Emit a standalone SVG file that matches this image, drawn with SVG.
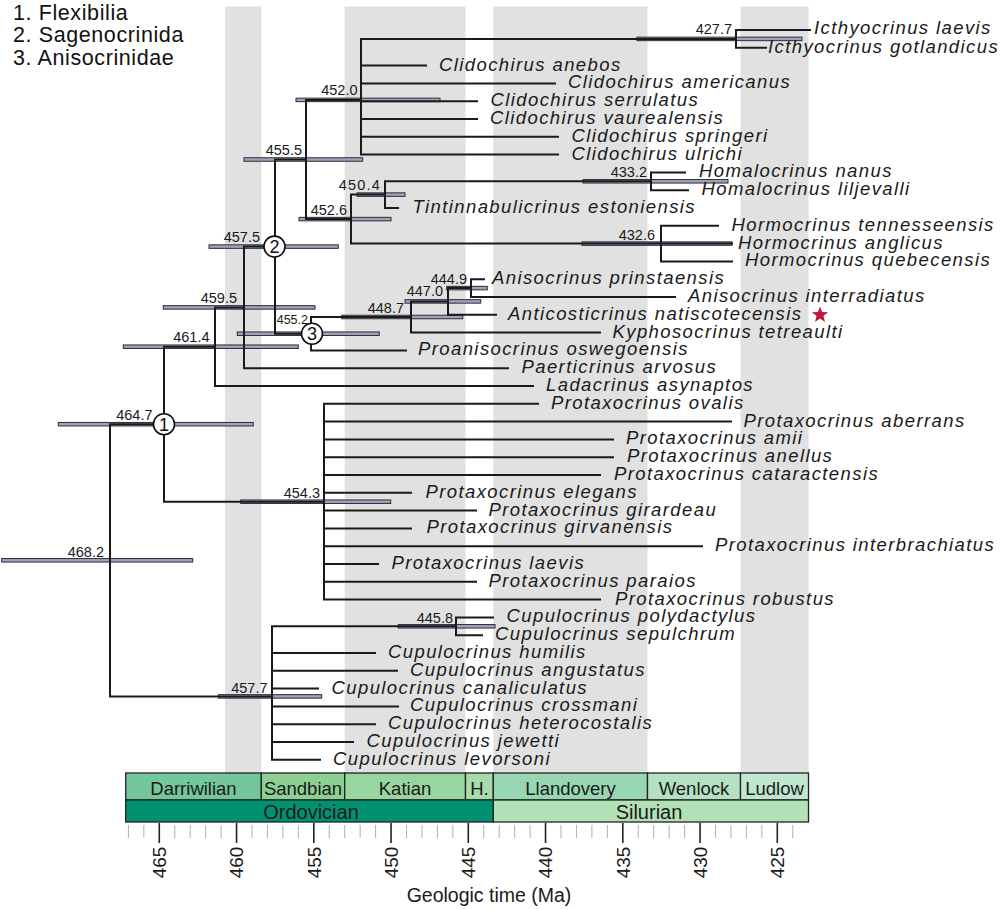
<svg xmlns="http://www.w3.org/2000/svg" width="1000" height="909" viewBox="0 0 1000 909">
<style>
.band{fill:#e1e1e1}
.br{stroke:#1a1a1a;stroke-width:2;fill:none;stroke-linecap:square}
.bar{fill:#a2a2bc;stroke:#2c2c3a;stroke-width:1}
.age{font-family:"Liberation Sans",Arial,sans-serif;font-size:14.5px;text-anchor:end;fill:#1a1a1a}
.tx{font-family:"Liberation Sans",Arial,sans-serif;font-style:italic;font-size:18.5px;letter-spacing:1.4px;fill:#1a1a1a}
.leg{font-family:"Liberation Sans",Arial,sans-serif;font-size:21.5px;letter-spacing:0.6px;fill:#111}
.circ{fill:#fff;stroke:#111;stroke-width:1.6}
.cn{font-family:"Liberation Sans",Arial,sans-serif;font-size:18px;text-anchor:middle;fill:#111}
.st{stroke:#222;stroke-width:1.3}
.stn{font-family:"Liberation Sans",Arial,sans-serif;font-size:18.5px;text-anchor:middle;fill:#1a1a1a}
.pn{font-family:"Liberation Sans",Arial,sans-serif;font-size:20px;text-anchor:middle;fill:#1a1a1a}
.mn{stroke:#b0b0b0;stroke-width:1}
.mj{stroke:#222;stroke-width:1.6}
.tl{font-family:"Liberation Sans",Arial,sans-serif;font-size:19px;text-anchor:middle;fill:#1a1a1a}
</style>
<rect width="1000" height="909" fill="#fff"/>
<g id="bands">
<rect class="band" x="225" y="6.5" width="36.3" height="766.5"/>
<rect class="band" x="344.7" y="6.5" width="120.8" height="766.5"/>
<rect class="band" x="493.3" y="6.5" width="154.2" height="766.5"/>
<rect class="band" x="740.5" y="6.5" width="68" height="766.5"/>
</g>
<g id="legend">
<text class="leg" x="13" y="19.5">1. Flexibilia</text>
<text class="leg" x="13" y="42">2. Sagenocrinida</text>
<text class="leg" x="13" y="64.5">3. Anisocrinidae</text>
</g>
<g id="bars">
<rect class="bar" x="1.7" y="558.55" width="191" height="3.5"/>
<rect class="bar" x="58.3" y="422.45" width="195" height="3.5"/>
<rect class="bar" x="240.7" y="499.95" width="150" height="3.5"/>
<rect class="bar" x="123.3" y="344.95" width="175" height="3.5"/>
<rect class="bar" x="163.3" y="305.65" width="151.7" height="3.5"/>
<rect class="bar" x="209" y="244.85" width="129.3" height="3.5"/>
<rect class="bar" x="237.3" y="331.95" width="142" height="3.5"/>
<rect class="bar" x="244" y="157.75" width="118.7" height="3.5"/>
<rect class="bar" x="296" y="98.15" width="144" height="3.5"/>
<rect class="bar" x="299" y="217.35" width="92" height="3.5"/>
<rect class="bar" x="357" y="192.85" width="48" height="3.5"/>
<rect class="bar" x="341.7" y="315.25" width="121" height="3.5"/>
<rect class="bar" x="405" y="299.65" width="75.7" height="3.5"/>
<rect class="bar" x="446.7" y="286.35" width="40.6" height="3.5"/>
<rect class="bar" x="583" y="179.55" width="145" height="3.5"/>
<rect class="bar" x="637" y="37.15" width="165" height="3.5"/>
<rect class="bar" x="582" y="241.85" width="150" height="3.5"/>
<rect class="bar" x="218.3" y="694.65" width="103.4" height="3.5"/>
<rect class="bar" x="398.3" y="624.55" width="96.7" height="3.5"/>
</g>
<g id="connectors">
<path class="br" d="M110,424.2V696.4M110,424.2H164M110,696.4H272"/>
<path class="br" d="M164,346.7V501.7M164,346.7H215M164,501.7H324"/>
<path class="br" d="M215,307.4V386M215,307.4H244M215,386H533"/>
<path class="br" d="M244,246.6V368.2M244,246.6H275M244,368.2H508"/>
<path class="br" d="M275,159.5V333.7M275,159.5H306M275,333.7H311"/>
<path class="br" d="M306,99.9V219.1M306,99.9H361M306,219.1H351"/>
<path class="br" d="M361,38.9V154.6M361,38.9H736M361,65.6H426M361,83.4H555M361,101.2H477M361,119H477M361,136.8H558M361,154.6H558"/>
<path class="br" d="M736,30V47.8M736,30H810M736,47.8H766"/>
<path class="br" d="M351,194.6V243.6M351,194.6H385M351,243.6H661"/>
<path class="br" d="M385,181.3V208M385,181.3H651M385,208H398"/>
<path class="br" d="M651,172.4V190.2M651,172.4H685M651,190.2H688"/>
<path class="br" d="M661,225.8V261.4M661,225.8H718M661,243.6H732M661,261.4H732"/>
<path class="br" d="M311,317V350.4M311,317H411M311,350.4H406"/>
<path class="br" d="M411,301.4V332.6M411,301.4H448M411,332.6H600"/>
<path class="br" d="M448,288.1V314.8M448,288.1H471M448,314.8H496"/>
<path class="br" d="M471,279.2V297M471,279.2H484M471,297H675"/>
<path class="br" d="M324,403.8V599.6M324,403.8H538M324,421.6H731M324,439.4H613M324,457.2H613M324,475H600M324,492.8H411M324,510.6H476M324,528.4H411M324,546.2H702M324,564H378M324,581.8H476M324,599.6H600"/>
<path class="br" d="M272,626.3V759.8M272,626.3H456M272,653H375M272,670.8H397M272,688.6H318M272,706.4H398M272,724.2H375M272,742H353M272,759.8H320"/>
<path class="br" d="M456,617.4V635.2M456,617.4H493M456,635.2H482"/>
</g>
<g id="n468-2"><text class="age" x="104" y="556.5">468.2</text></g>
<g id="n464-7"><text class="age" x="152.5" y="420">464.7</text><circle class="circ" cx="164" cy="424.2" r="10.5"/><text class="cn" x="164" y="430.7">1</text></g>
<g id="n454-3"><text class="age" x="320" y="497.5">454.3</text></g>
<g id="n461-4"><text class="age" x="209.5" y="342">461.4</text></g>
<g id="n459-5"><text class="age" x="237" y="302.5">459.5</text></g>
<g id="n457-5"><text class="age" x="260" y="241.5">457.5</text><circle class="circ" cx="274.5" cy="246.6" r="10.5"/><text class="cn" x="274.5" y="253.1">2</text></g>
<g id="n455-5"><text class="age" x="302" y="155">455.5</text></g>
<g id="n452-6"><text class="age" x="347" y="214.5">452.6</text></g>
<g id="n452-0"><text class="age" x="357.5" y="94.5">452.0</text></g>
<g id="n450-4"><text class="age" x="381" y="189.5" style="letter-spacing:1.2px">450.4</text></g>
<g id="n455-2"><text class="age" x="308" y="323.5" style="font-size:12.5px">455.2</text><circle class="circ" cx="312" cy="333.7" r="10.5"/><text class="cn" x="312" y="340.2">3</text></g>
<g id="n448-7"><text class="age" x="404" y="312.5">448.7</text></g>
<g id="n447-0"><text class="age" x="443" y="296">447.0</text></g>
<g id="n444-9"><text class="age" x="467" y="284">444.9</text></g>
<g id="n433-2"><text class="age" x="647" y="176.5">433.2</text></g>
<g id="n427-7"><text class="age" x="732" y="34">427.7</text></g>
<g id="n432-6"><text class="age" x="655" y="239.5">432.6</text></g>
<g id="n445-8"><text class="age" x="453" y="622.5">445.8</text></g>
<g id="n457-7"><text class="age" x="267.5" y="693">457.7</text></g>
<g id="taxa">
<text class="tx" x="814" y="34">Icthyocrinus laevis</text>
<text class="tx" x="768" y="52.8">Icthyocrinus gotlandicus</text>
<text class="tx" x="439" y="70.6">Clidochirus anebos</text>
<text class="tx" x="568" y="88.4">Clidochirus americanus</text>
<text class="tx" x="490.5" y="106.2">Clidochirus serrulatus</text>
<text class="tx" x="490" y="124">Clidochirus vaurealensis</text>
<text class="tx" x="571.5" y="141.8">Clidochirus springeri</text>
<text class="tx" x="571.5" y="159.6">Clidochirus ulrichi</text>
<text class="tx" x="699" y="177.4">Homalocrinus nanus</text>
<text class="tx" x="701.5" y="195.2">Homalocrinus liljevalli</text>
<text class="tx" x="412.5" y="213">Tintinnabulicrinus estoniensis</text>
<text class="tx" x="731.5" y="230.8">Hormocrinus tennesseensis</text>
<text class="tx" x="738" y="248.6">Hormocrinus anglicus</text>
<text class="tx" x="745" y="266.4">Hormocrinus quebecensis</text>
<text class="tx" x="492" y="284.2">Anisocrinus prinstaensis</text>
<text class="tx" x="688" y="302">Anisocrinus interradiatus</text>
<text class="tx" x="508" y="319.8">Anticosticrinus natiscotecensis</text>
<text class="tx" x="612.5" y="337.6">Kyphosocrinus tetreaulti</text>
<text class="tx" x="418" y="355.4">Proanisocrinus oswegoensis</text>
<text class="tx" x="521.5" y="373.2">Paerticrinus arvosus</text>
<text class="tx" x="546" y="391">Ladacrinus asynaptos</text>
<text class="tx" x="551" y="408.8">Protaxocrinus ovalis</text>
<text class="tx" x="743.5" y="426.6">Protaxocrinus aberrans</text>
<text class="tx" x="626" y="444.4">Protaxocrinus amii</text>
<text class="tx" x="627" y="462.2">Protaxocrinus anellus</text>
<text class="tx" x="614" y="480">Protaxocrinus cataractensis</text>
<text class="tx" x="425.5" y="497.8">Protaxocrinus elegans</text>
<text class="tx" x="488.5" y="515.6">Protaxocrinus girardeau</text>
<text class="tx" x="426.5" y="533.4">Protaxocrinus girvanensis</text>
<text class="tx" x="715" y="551.2">Protaxocrinus interbrachiatus</text>
<text class="tx" x="391.5" y="569">Protaxocrinus laevis</text>
<text class="tx" x="488.5" y="586.8">Protaxocrinus paraios</text>
<text class="tx" x="615" y="604.6">Protaxocrinus robustus</text>
<text class="tx" x="506.5" y="622.4">Cupulocrinus polydactylus</text>
<text class="tx" x="495" y="640.2">Cupulocrinus sepulchrum</text>
<text class="tx" x="388" y="658">Cupulocrinus humilis</text>
<text class="tx" x="410" y="675.8">Cupulocrinus angustatus</text>
<text class="tx" x="331.5" y="693.6">Cupulocrinus canaliculatus</text>
<text class="tx" x="410" y="711.4">Cupulocrinus crossmani</text>
<text class="tx" x="388" y="729.2">Cupulocrinus heterocostalis</text>
<text class="tx" x="366.5" y="747">Cupulocrinus jewetti</text>
<text class="tx" x="333" y="764.8">Cupulocrinus levorsoni</text>
</g>
<g id="star"><polygon fill="#c0163f" points="820,306.5 822.12,312.09 828.08,312.37 823.42,316.11 825,321.88 820,318.6 815,321.88 816.58,316.11 811.92,312.37 817.88,312.09"/></g>
<g id="timescale">
<rect class="st" x="125.7" y="773" width="135.6" height="27" fill="#74C69C"/>
<rect class="st" x="261.3" y="773" width="83.4" height="27" fill="#8CD094"/>
<rect class="st" x="344.7" y="773" width="120.8" height="27" fill="#99D69F"/>
<rect class="st" x="465.5" y="773" width="27.8" height="27" fill="#A6DBAB"/>
<rect class="st" x="493.3" y="773" width="154.2" height="27" fill="#99D7B3"/>
<rect class="st" x="647.5" y="773" width="93" height="27" fill="#B3E1C2"/>
<rect class="st" x="740.5" y="773" width="68" height="27" fill="#BFE6CF"/>
<rect class="st" x="125.7" y="800" width="367.6" height="22" fill="#009270"/>
<rect class="st" x="493.3" y="800" width="315.2" height="22" fill="#B3E1B6"/>
<text class="stn" x="193.5" y="795">Darriwilian</text>
<text class="stn" x="303" y="795">Sandbian</text>
<text class="stn" x="405" y="795">Katian</text>
<text class="stn" x="479.5" y="795">H.</text>
<text class="stn" x="570.5" y="795">Llandovery</text>
<text class="stn" x="694" y="795">Wenlock</text>
<text class="stn" x="774.5" y="795">Ludlow</text>
<text class="pn" x="311" y="819">Ordovician</text>
<text class="pn" x="649" y="819">Silurian</text>
<g id="ticks">
<path class="mn" d="M128.4,825V838M143.85,825V838M174.75,825V838M190.2,825V838M205.65,825V838M221.1,825V838M252,825V838M267.45,825V838M282.9,825V838M298.35,825V838M329.25,825V838M344.7,825V838M360.15,825V838M375.6,825V838M406.5,825V838M421.95,825V838M437.4,825V838M452.85,825V838M483.75,825V838M499.2,825V838M514.65,825V838M530.1,825V838M561,825V838M576.45,825V838M591.9,825V838M607.35,825V838M638.25,825V838M653.7,825V838M669.15,825V838M684.6,825V838M715.5,825V838M730.95,825V838M746.4,825V838M761.85,825V838M792.75,825V838"/>
<path class="mj" d="M159.3,823V843M236.55,823V843M313.8,823V843M391.05,823V843M468.3,823V843M545.55,823V843M622.8,823V843M700.05,823V843M777.3,823V843"/>
<text class="tl" transform="translate(166,862.5) rotate(-90)">465</text>
<text class="tl" transform="translate(243.3,862.5) rotate(-90)">460</text>
<text class="tl" transform="translate(320.5,862.5) rotate(-90)">455</text>
<text class="tl" transform="translate(397.8,862.5) rotate(-90)">450</text>
<text class="tl" transform="translate(475,862.5) rotate(-90)">445</text>
<text class="tl" transform="translate(552.3,862.5) rotate(-90)">440</text>
<text class="tl" transform="translate(629.5,862.5) rotate(-90)">435</text>
<text class="tl" transform="translate(706.8,862.5) rotate(-90)">430</text>
<text class="tl" transform="translate(784,862.5) rotate(-90)">425</text>
</g>
<text class="pn" x="489" y="902" style="font-size:19.5px">Geologic time (Ma)</text>
</g>
</svg>
